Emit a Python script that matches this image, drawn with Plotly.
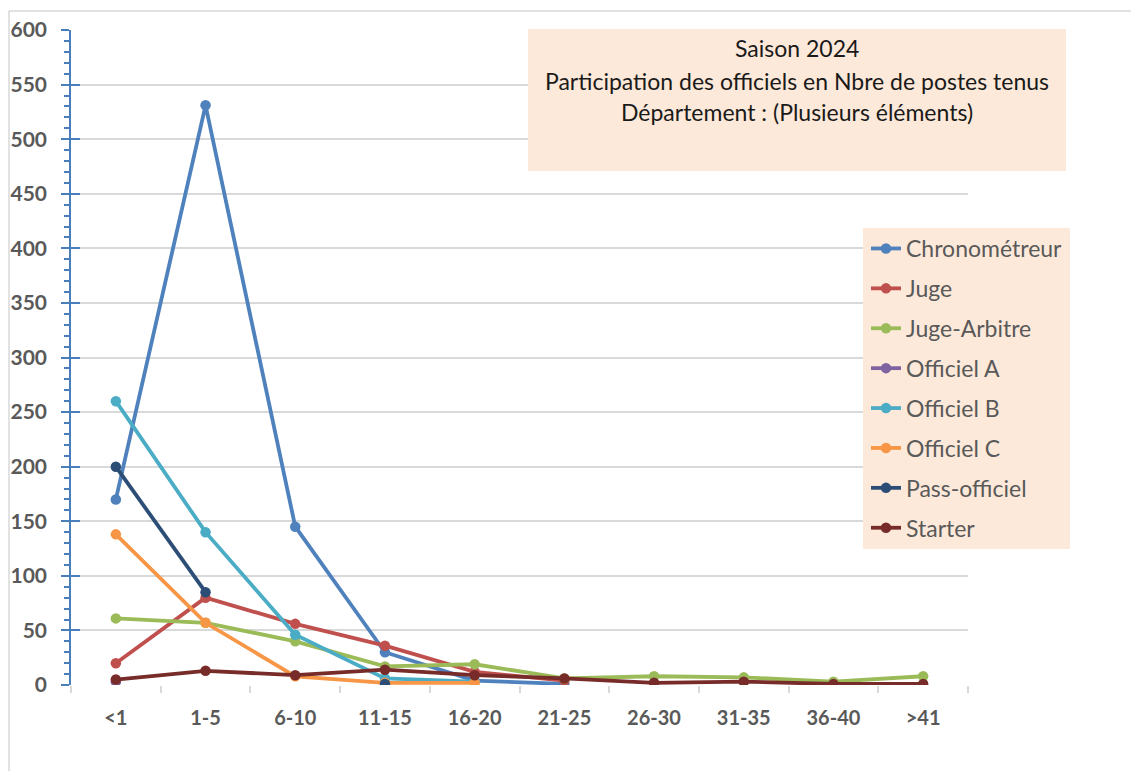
import plotly.graph_objects as go

categories = ["<1", "1-5", "6-10", "11-15", "16-20", "21-25", "26-30", "31-35", "36-40", ">41"]

chronometreur = [170, 531, 145, 30, 4, 1, None, None, None, None]
juge = [20, 80, 56, 36, 12, 4, None, None, None, None]
juge_arbitre = [61, 57, 40, 17, 19, 6, 8, 7, 3, 8]
officiel_a = [3, None, None, None, None, None, None, None, None, None]
officiel_b = [260, 140, 46, 6, 3, None, None, None, None, None]
officiel_c = [138, 57, 8, 2, 2, None, None, None, None, None]
pass_officiel = [200, 85, None, 1, None, None, None, None, None, None]
starter = [5, 13, 9, 14, 9, 6, 2, 3, 1, 1]

series_names = ["Chronométreur", "Juge", "Juge-Arbitre", "Officiel A",
                "Officiel B", "Officiel C", "Pass-officiel", "Starter"]
series_values = [chronometreur, juge, juge_arbitre, officiel_a,
                 officiel_b, officiel_c, pass_officiel, starter]
series_colors = ["#4f81bd", "#c0504d", "#9bbb59", "#8064a2",
                 "#4bacc6", "#f79646", "#2c4d75", "#772c2a"]

title_lines = ["Saison 2024", "Participation des officiels en Nbre de postes tenus",
               "Département : (Plusieurs éléments)"]

W, H = 1131, 771
L, R, T, B = 71, 968, 30, 685
FONT = "Lato, Carlito, sans-serif"


def px(x):
    return (x - L) / (R - L)


def py(y):
    return (B - y) / (B - T)


fig = go.Figure()
for i, (name, vals, col) in enumerate(zip(series_names, series_values, series_colors)):
    fig.add_trace(go.Scatter(
        x=categories, y=vals, name=name, mode="lines+markers",
        line=dict(color=col, width=3.8), marker=dict(color=col, size=10.5),
        legendgroup=f"g{i}", connectgaps=False,
    ))

# invisible trace for the overlay axis (inner part of the major ticks)
fig.add_trace(go.Scatter(x=categories[:1], y=[0], yaxis="y2", mode="markers",
                         marker=dict(opacity=0), showlegend=False, hoverinfo="skip"))

axis_blue = "#4a7ebb"
grid = "#d9d9d9"

fig.update_layout(
    width=W, height=H, autosize=False,
    margin=dict(l=L, r=W - R, t=T, b=H - B, pad=0, autoexpand=False),
    paper_bgcolor="white", plot_bgcolor="white",
    showlegend=True,
    legend=dict(x=px(866), y=py(227), xanchor="left", yanchor="top",
                bgcolor="rgba(0,0,0,0)", tracegroupgap=7,
                font=dict(family=FONT, size=23, color="#595959"),
                itemwidth=30),
    xaxis=dict(type="category", range=[-0.5, 9.5], tickson="boundaries", automargin=False,
               ticks="outside", ticklen=7, tickcolor=grid, tickwidth=1.5,
               showgrid=False, showline=False, zeroline=False,
               tickfont=dict(family=FONT, size=20, color="#595959", weight="bold"),
               ticklabelstandoff=19),
    yaxis=dict(range=[0, 600], dtick=50, showgrid=True, gridcolor=grid, gridwidth=1.5,
               automargin=False,
               zeroline=False, showline=True, linecolor=axis_blue, linewidth=1.5,
               ticks="outside", ticklen=8, tickcolor=axis_blue, tickwidth=1.5,
               minor=dict(dtick=10, ticks="outside", ticklen=5, tickcolor=axis_blue,
                          tickwidth=1.5, showgrid=False),
               tickfont=dict(family=FONT, size=21, color="#595959", weight="bold"),
               ticklabelstandoff=10),
    yaxis2=dict(range=[0, 600], dtick=50, overlaying="y", side="left", automargin=False,
                showgrid=False, zeroline=False, showline=False,
                ticks="inside", ticklen=9, tickcolor=axis_blue, tickwidth=1.5,
                showticklabels=False),
)

peach = "#fde9d9"
shapes = [
    dict(type="line", xref="paper", yref="paper", x0=px(9), x1=px(1131), y0=py(11), y1=py(11),
         line=dict(color=grid, width=1.5)),
    dict(type="line", xref="paper", yref="paper", x0=px(9), x1=px(9), y0=py(11), y1=py(771),
         line=dict(color=grid, width=1.5)),
    dict(type="rect", xref="paper", yref="paper", x0=px(528), x1=px(1066), y0=py(29), y1=py(171),
         fillcolor=peach, line=dict(width=0), layer="above"),
    dict(type="rect", xref="paper", yref="paper", x0=px(863), x1=px(1070), y0=py(228), y1=py(549),
         fillcolor=peach, line=dict(width=0), layer="above"),
]
fig.update_layout(shapes=shapes)

for line_text, ypix in zip(title_lines, [48, 81, 112]):
    fig.add_annotation(xref="paper", yref="paper", x=px(797), y=py(ypix),
                       xanchor="center", yanchor="middle",
                       text=line_text, showarrow=False, align="center",
                       font=dict(family=FONT, size=23, color="#1a1a1a"))

fig.write_html("out.html", config={"displayModeBar": False},
               post_script="document.body.style.margin='0';document.body.style.overflow='hidden';")
